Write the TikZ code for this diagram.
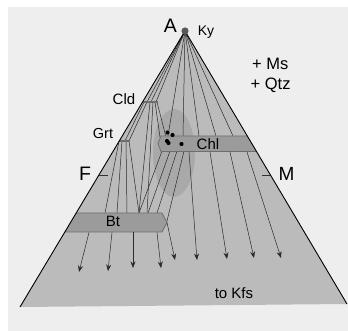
\documentclass[tikz,border=0pt]{standalone}
\usepackage{fontspec}
\setmainfont{Liberation Sans}
\usetikzlibrary{arrows.meta}
\definecolor{bgc}{HTML}{EEEEEE}
\definecolor{tric}{HTML}{BBBBBB}
\definecolor{blobc}{HTML}{A9A9A9}
\definecolor{bandc}{HTML}{9B9B9B}
\definecolor{bandl}{HTML}{6E6E6E}
\definecolor{tiec}{HTML}{2A2A2A}
\begin{document}
\begin{tikzpicture}[x=1pt,y=-1pt,
  tie/.style={draw=tiec, line width=0.5pt},
  tokfs/.style={tie, -{Stealth[length=6.5pt,width=5pt,inset=2.2pt]}},
  bandbox/.style={fill=bandc, draw=bandl, line width=0.8pt},
  barline/.style={draw=bandl, line width=2.2pt},
  lab/.style={anchor=base, inner sep=0pt, text=black},
  dotc/.style={fill=black, draw=none}]
\useasboundingbox (0,0) rectangle (348,331);
\fill[white] (0,0) rectangle (348,331);
\fill[bgc] (8,7) rectangle (348,331);
% triangle
\coordinate (A) at (185,31);
\coordinate (BL) at (20,307);
\coordinate (BR) at (347,304);
\fill[tric] (A) -- (BL) -- (BR) -- cycle;
\begin{scope}
  \clip (A) -- (BL) -- (BR) -- cycle;
  \fill[blobc] (174,153) ellipse [x radius=21pt, y radius=44pt];
  % Ky - Cld
  \foreach \n/\x in {1/147,2/151,3/156}{
    \coordinate (cldA\n) at (\x,102);
    \draw[tie] (A) -- (cldA\n);
  }
  % Ky - Chl
  \foreach \n/\x in {1/168,2/183,3/199,4/216,5/233}{
    \coordinate (chlT\n) at (\x,136);
    \draw[tie] (A) -- (chlT\n);
  }
  % Cld - Grt
  \foreach \n/\a/\b in {1/144/125,2/147/129}{
    \coordinate (cg\n a) at (\a,102);
    \coordinate (cg\n b) at (\b,141);
    \draw[tie] (cg\n a) -- (cg\n b);
  }
  % Cld - Bt
  \foreach \n/\a/\b in {1/150/139,2/153/147}{
    \coordinate (cb\n a) at (\a,102);
    \coordinate (cb\n b) at (\b,213);
    \draw[tie] (cb\n a) -- (cb\n b);
  }
  % Cld - Chl
  \foreach \n/\a/\b in {1/155/160,2/157/166}{
    \coordinate (cc\n a) at (\a,102);
    \coordinate (cc\n b) at (\b,137);
    \draw[tie] (cc\n a) -- (cc\n b);
  }
  % Grt - Bt
  \foreach \n/\a/\b in {1/119/105,2/122/117,3/126/127,4/129/139}{
    \coordinate (gb\n a) at (\a,141);
    \coordinate (gb\n b) at (\b,213);
    \draw[tie] (gb\n a) -- (gb\n b);
  }
  % Chl - Bt
  \foreach \n/\a/\b/\c in {1/162/139/213,2/170/148/213,3/177/157/213,4/184/167/221}{
    \coordinate (hb\n a) at (\a,151);
    \coordinate (hb\n b) at (\b,\c);
    \draw[tie] (hb\n a) -- (hb\n b);
  }
  % bands
  \draw[bandbox] (158,143.5) -- (161,136) -- (320,136) -- (320,151.5) -- (161,151.5) -- cycle;
  \draw[bandbox] (0,213) -- (162,213) -- (167,222.5) -- (162,232) -- (0,232) -- cycle;
\end{scope}
% bars
\coordinate (cldL) at (143,102);
\coordinate (cldR) at (158,102);
\coordinate (grtL) at (118.5,141);
\coordinate (grtR) at (130,141);
\draw[barline] (cldL) -- (cldR);
\draw[barline] (grtL) -- (grtR);
% arrows to Kfs from Bt
\foreach \n/\a/\b/\c in {1/89/79/272,2/112/108/271,3/133/133/268,4/157/161/268}{
  \coordinate (bk\n a) at (\a,232.5);
  \coordinate (bk\n b) at (\b,\c);
  \draw[tokfs] (bk\n a) -- (bk\n b);
}
\coordinate (btTip) at (167,222.5);
\coordinate (k5) at (175,260);
\draw[tokfs] (btTip) -- (k5);
% arrows to Kfs from Chl
\foreach \n/\a/\b/\c in {1/189/197/260,2/210/227/259,3/230/254/258,4/247/281/258}{
  \coordinate (hk\n a) at (\a,152);
  \coordinate (hk\n b) at (\b,\c);
  \draw[tokfs] (hk\n a) -- (hk\n b);
}
% dots
\foreach \n/\x/\y in {1/167.5/132.5,2/172.5/135,3/167/141,4/168.5/143,5/181.5/144}{
  \fill[dotc] (\x,\y) circle [radius=2.1pt];
}
% triangle edges
\draw[black, line width=0.9pt] (BL) -- (A) -- (BR);
% ticks
\coordinate (Ft1) at (99,175);
\coordinate (Ft2) at (108,175);
\coordinate (Mt1) at (262,175);
\coordinate (Mt2) at (270,175);
\draw[black!80, line width=0.8pt] (Ft1) -- (Ft2);
\draw[black!80, line width=0.8pt] (Mt1) -- (Mt2);
% apex dot
\fill[black!65] (A) circle [radius=3.6pt];
% labels
\node[lab, font=\fontsize{19.5}{20}\selectfont] (lA) at (170.5,33) {A};
\node[lab, font=\fontsize{14}{15}\selectfont] (lKy) at (206,35.5) {Ky};
\node[lab, font=\fontsize{16.5}{17}\selectfont, anchor=base west] (lMs) at (252,70) {+ Ms};
\node[lab, font=\fontsize{16.5}{17}\selectfont, anchor=base west] (lQtz) at (250.5,89.5) {+ Qtz};
\node[lab, font=\fontsize{15}{16}\selectfont] (lCld) at (124,105) {Cld};
\node[lab, font=\fontsize{14.5}{15}\selectfont] (lGrt) at (103,139) {Grt};
\node[lab, font=\fontsize{15}{16}\selectfont] (lChl) at (208,149.3) {Chl};
\node[lab, font=\fontsize{19.5}{20}\selectfont] (lF) at (85,181) {F};
\node[lab, font=\fontsize{19}{20}\selectfont] (lM) at (286.5,181) {M};
\node[lab, font=\fontsize{15}{16}\selectfont] (lBt) at (113,227) {Bt};
\node[lab, font=\fontsize{15}{16}\selectfont] (lKfs) at (234,298) {to Kfs};
\end{tikzpicture}
\end{document}
